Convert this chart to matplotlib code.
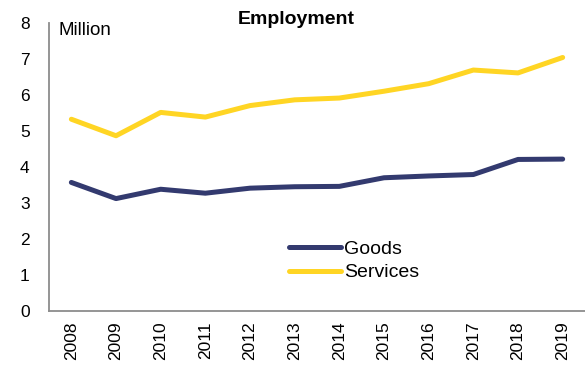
import matplotlib
matplotlib.use("Agg")
import matplotlib.pyplot as plt

plt.rcParams['font.family'] = ['Liberation Sans', 'DejaVu Sans']

years = ['2008', '2009', '2010', '2011', '2012', '2013',
         '2014', '2015', '2016', '2017', '2018', '2019']
goods = [3.57, 3.12, 3.38, 3.27, 3.41, 3.45, 3.46, 3.70, 3.75, 3.79, 4.21, 4.22]
services = [5.33, 4.87, 5.52, 5.39, 5.71, 5.87, 5.92, 6.11, 6.32, 6.70, 6.62, 7.05]
y_ticks = [0, 1, 2, 3, 4, 5, 6, 7, 8]

fig = plt.figure(figsize=(5.85, 3.65), dpi=100)
ax = fig.add_axes([0.0838, 0.149, 0.9162, 0.787])

x = list(range(len(years)))
ax.plot(x, goods, color='#333a6f', lw=3.6, solid_capstyle='round', label='Goods')
ax.plot(x, services, color='#ffd524', lw=3.6, solid_capstyle='round', label='Services')

ax.set_xlim(-0.5, len(years) - 0.5)
ax.set_ylim(0, 8)
ax.set_yticks(y_ticks)
ax.set_xticks(x)
ax.set_xticklabels(years, rotation=90)
ax.tick_params(axis='both', length=0, labelsize=12.5, colors='black')
ax.tick_params(axis='y', pad=14)
ax.tick_params(axis='x', pad=8)

for side in ('top', 'right'):
    ax.spines[side].set_visible(False)
for side in ('left', 'bottom'):
    ax.spines[side].set_color('#8c8c8c')
    ax.spines[side].set_linewidth(1.3)

fig.text(59 / 585, 1 - 35 / 365, 'Million', fontsize=13.5,
         va='baseline', ha='left')
fig.text(0.506, 1 - 24 / 365, 'Employment', fontsize=14, fontweight='bold',
         ha='center', va='baseline')

ax.legend(loc='upper left', bbox_to_anchor=(0.433, 0.272), frameon=False,
          fontsize=14, handlelength=2.7, handletextpad=0.15,
          labelspacing=0.3, borderaxespad=0)

fig.savefig('out.png', dpi=100)
